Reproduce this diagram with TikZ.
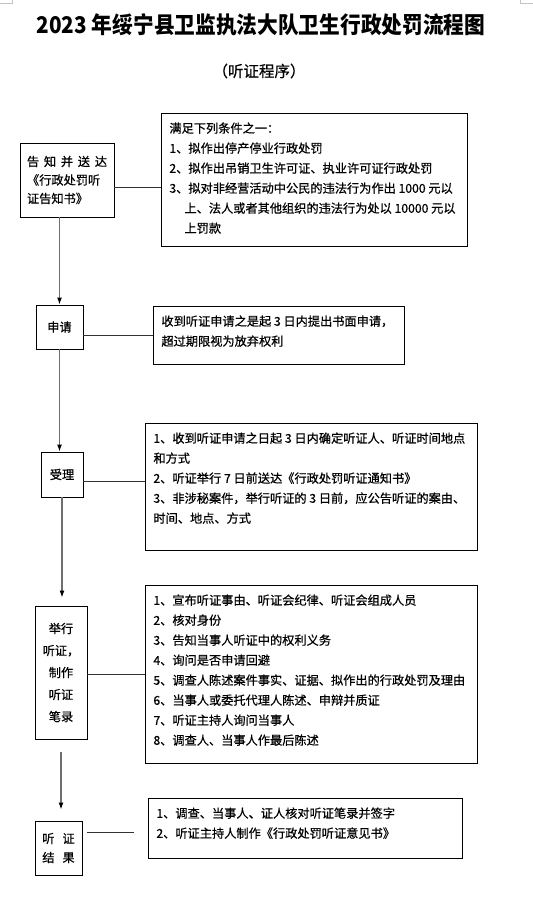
\documentclass[tikz,border=0pt]{standalone}
\usepackage{fontspec}
\setmainfont{Noto Sans CJK SC}[FakeBold=0.6]
\newfontfamily\titlecjk{Noto Sans CJK SC}[FakeStretch=0.9]
\usepackage{tikz}
\usetikzlibrary{arrows.meta}
\definecolor{wiregray}{RGB}{110,110,110}
\definecolor{markgray}{RGB}{195,195,195}
\newcommand{\toptext}[3]{\parbox[b][#2][t]{#1}{#3}}
\tikzset{
  stage/.style={draw=black, line width=0.9pt, fill=white,
                inner sep=3pt, align=center,
                font=\fontsize{12.2}{22}\selectfont},
  detail/.style={draw=black, line width=0.9pt, fill=white,
                 anchor=north west, inner xsep=8pt, inner ysep=9pt,
                 font=\fontsize{12.2}{20}\selectfont},
  link/.style={black!80, line width=0.9pt},
  flow/.style={wiregray, line width=1.1pt,
               -{Latex[length=7pt,width=5pt,color=black]}},
  cropmark/.style={markgray, line width=0.8pt},
}

\begin{document}
\begin{tikzpicture}[x=1pt,y=-1pt]
  \path[use as bounding box] (0,0) rectangle (533,911);

  \draw[cropmark] (0,3.5) -- (12,3.5) -- (12,0);
  \draw[cropmark] (520,0) -- (520,3.5) -- (533,3.5);

  \node[font=\titlecjk\bfseries\fontsize{23}{26}\selectfont] (TITLE) at (261,25)
    {2023 年绥宁县卫监执法大队卫生行政处罚流程图};
  \node[font=\fontsize{15.5}{18}\selectfont] (SUB) at (259,71)
    {（听证程序）};

  % left column
  \node[stage, align=left, text width=80pt, inner xsep=7pt,
        minimum height=74pt, font=\fontsize{12.2}{18.5}\selectfont]
    (NOTIFY) at (67,180)
    {告\hfill 知\hfill 并\hfill 送\hfill 达\\《行政处罚听\\证告知书》};
  \node[stage, minimum width=47pt, minimum height=44pt] (APPLYN) at (59.5,327) {申请};
  \node[stage, minimum width=42pt, minimum height=45pt] (ACCEPT) at (62,474.5) {受理};
  \node[stage, minimum width=52pt, minimum height=133pt] (HEAR) at (61,672.5)
    {举行\\听证，\\制作\\听证\\笔录};
  \node[stage, minimum width=47pt, minimum height=54pt,
        font=\fontsize{12.2}{19}\selectfont] (RESULT) at (58.5,848)
    {听\hspace{8pt}证\\结\hspace{8pt}果};

  % right column
  \node[detail] (NOTIFYD) at (161,113)
    {\toptext{290pt}{115pt}{满足下列条件之一：\\
     1、拟作出停产停业行政处罚\\
     2、拟作出吊销卫生许可证、执业许可证行政处罚\\
     3、拟对非经营活动中公民的违法行为作出 1000 元以\\
     \hspace*{15pt}上、法人或者其他组织的违法行为处以 10000 元以\\
     \hspace*{15pt}上罚款}};
  \node[detail] (APPLYD) at (153,306)
    {\toptext{235pt}{40pt}{收到听证申请之是起 3 日内提出书面申请，\\
     超过期限视为放弃权利}};
  \node[detail] (ACCEPTD) at (145,423)
    {\toptext{316pt}{109pt}{1、收到听证申请之日起 3 日内确定听证人、听证时间地点\\
     和方式\\
     2、听证举行 7 日前送达《行政处罚听证通知书》\\
     3、非涉秘案件，举行听证的 3 日前，应公告听证的案由、\\
     时间、地点、方式}};
  \node[detail] (HEARD) at (145,585)
    {\toptext{316pt}{160pt}{1、宣布听证事由、听证会纪律、听证会组成人员\\
     2、核对身份\\
     3、告知当事人听证中的权利义务\\
     4、询问是否申请回避\\
     5、调查人陈述案件事实、证据、拟作出的行政处罚及理由\\
     6、当事人或委托代理人陈述、申辩并质证\\
     7、听证主持人询问当事人\\
     8、调查人、当事人作最后陈述}};
  \node[detail] (RESULTD) at (148,798)
    {\toptext{298pt}{42pt}{1、调查、当事人、证人核对听证笔录并签字\\
     2、听证主持人制作《行政处罚听证意见书》}};

  % flow down the left column
  \draw[flow] (NOTIFY.south -| APPLYN.north) -- (APPLYN.north);
  \draw[flow] (APPLYN.south) -- (APPLYN.south |- ACCEPT.north);
  \draw[flow, shorten >=8pt] (ACCEPT.south) -- (ACCEPT.south |- HEAR.north);
  \draw[flow, shorten <=13pt, shorten >=11pt] (HEAR.south) -- (HEAR.south |- RESULT.north);

  % links to the details
  \draw[link] ([yshift=-7pt]NOTIFY.east) -- ([yshift=-7pt]NOTIFY.east -| NOTIFYD.west);
  \draw[link] (APPLYN.east |- APPLYD.west) -- (APPLYD.west);
  \draw[link] ([yshift=-6.5pt]ACCEPT.east) -- ([yshift=-6.5pt]ACCEPT.east -| ACCEPTD.west);
  \draw[link] (HEAR.east |- HEARD.west) -- (HEARD.west);
  \draw[link, shorten <=5pt, shorten >=14pt]
    ([yshift=16pt]RESULT.east) -- ([yshift=16pt]RESULT.east -| RESULTD.west);
\end{tikzpicture}
\end{document}
